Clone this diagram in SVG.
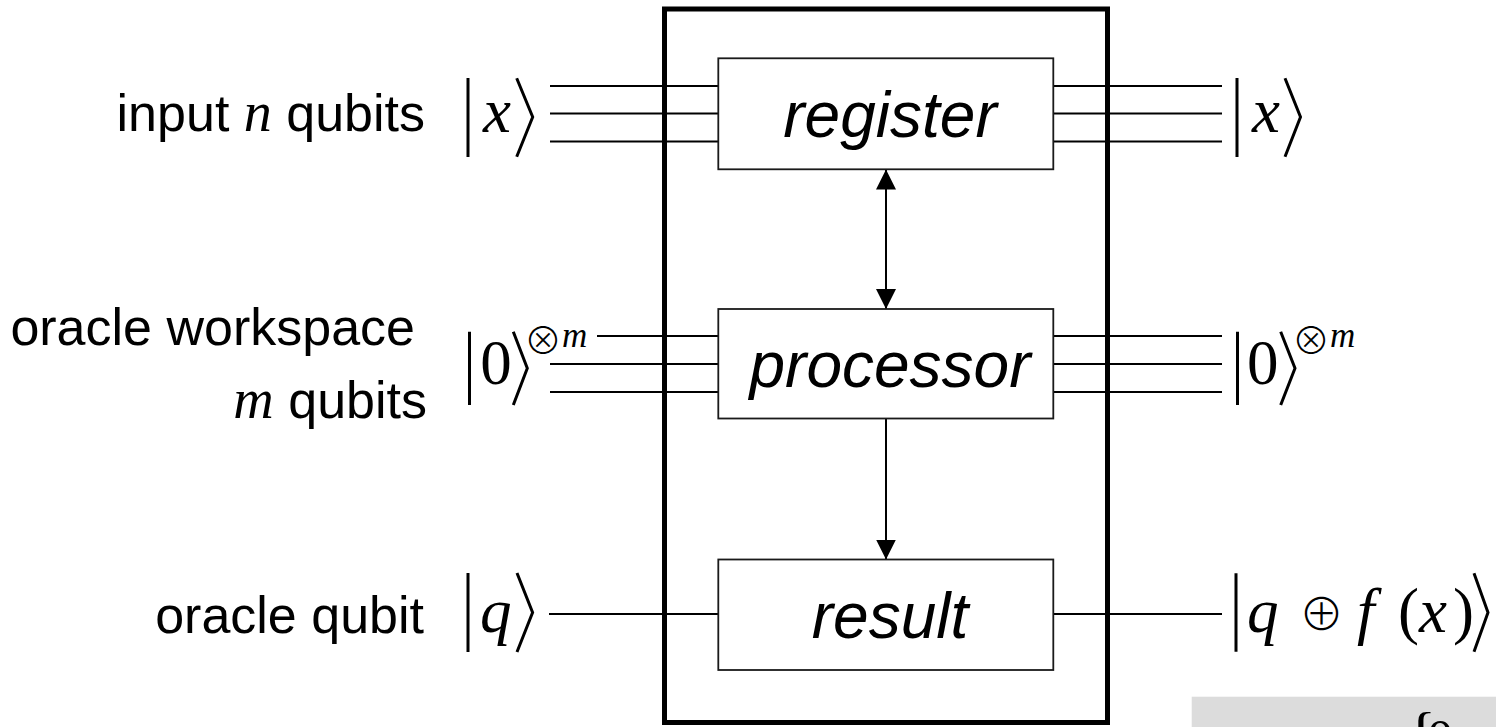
<svg xmlns="http://www.w3.org/2000/svg" width="1496" height="727" viewBox="0 0 1496 727">
  <defs>
    <style>
      .wire { stroke:#000; stroke-width:2; fill:none; }
      .arrow { stroke:#000; stroke-width:2; fill:none; }
      .frame { stroke:#000; stroke-width:5; fill:none; }
      .box { fill:#fff; stroke:#1a1a1a; stroke-width:1.8; }
      .delim { stroke:#000; stroke-width:3; fill:none; stroke-linejoin:miter; }
      .lbl { font-family:"Liberation Sans", Arial, Helvetica, sans-serif; font-size:52px; fill:#000; }
      .blk { font-family:"Liberation Sans", Arial, Helvetica, sans-serif; font-style:italic; font-size:64px; text-anchor:middle; fill:#000; }
      .math { font-family:"Liberation Serif", "Times New Roman", serif; font-size:63px; fill:#000; }
      .var { font-family:"Liberation Serif", "Times New Roman", serif; font-style:italic; }
      .sup { font-family:"Liberation Serif", "Times New Roman", serif; font-style:italic; font-size:35px; fill:#000; }
      .op { font-family:"Noto Sans CJK JP", "DejaVu Sans", sans-serif; font-weight:300; text-anchor:middle; fill:#000; }
    </style>
    <marker id="head" viewBox="0 0 20 20" refX="20" refY="10" markerWidth="20" markerHeight="20" markerUnits="userSpaceOnUse" orient="auto-start-reverse">
      <path d="M0,0 L20,10 L0,20 z" fill="#000"/>
    </marker>
  </defs>

  <rect width="1496" height="727" fill="#fff"/>

  <!-- wires and control arrows -->
  <g id="connectors">
    <!-- x register wires -->
    <path class="wire" d="M550,86 H718 M550,113.5 H718 M550,141.5 H718"/>
    <path class="wire" d="M1053,86 H1222 M1053,113.5 H1222 M1053,141.5 H1222"/>
    <!-- workspace wires -->
    <path class="wire" d="M597,336 H718 M550,364 H718 M550,392 H718"/>
    <path class="wire" d="M1053,336 H1222 M1053,364 H1222 M1053,392 H1222"/>
    <!-- oracle qubit wire -->
    <path class="wire" d="M549,614 H718 M1053,614 H1222"/>
    <!-- register <-> processor -->
    <path class="arrow" d="M886,169.5 V309" marker-start="url(#head)" marker-end="url(#head)"/>
    <!-- processor -> result -->
    <path class="arrow" d="M886,418.5 V559.5" marker-end="url(#head)"/>
  </g>

  <!-- oracle enclosure -->
  <g id="oracle">
    <rect class="frame" x="664.5" y="9" width="443" height="713.5"/>
  </g>

  <g id="register">
    <rect class="box" x="718.3" y="58.3" width="335" height="111"/>
    <text class="blk" x="890" y="137">register</text>
  </g>

  <g id="processor">
    <rect class="box" x="718.3" y="309" width="335" height="109.5"/>
    <text class="blk" x="890" y="387">processor</text>
  </g>

  <g id="result">
    <rect class="box" x="718.3" y="559.5" width="335" height="110.5"/>
    <text class="blk" x="890" y="638">result</text>
  </g>

  <!-- input labels -->
  <g id="label-input">
    <text class="lbl" x="425" y="131" text-anchor="end">input <tspan class="var" font-size="56">n</tspan> qubits</text>
  </g>
  <g id="label-workspace">
    <text class="lbl" x="415" y="345" text-anchor="end">oracle workspace</text>
    <text class="lbl" x="427" y="418" text-anchor="end"><tspan class="var" font-size="56">m</tspan> qubits</text>
  </g>
  <g id="label-qubit">
    <text class="lbl" x="424" y="633" text-anchor="end">oracle qubit</text>
  </g>

  <!-- input kets -->
  <g id="ket-x-in">
    <path class="delim" d="M468,78 V157 M516.7,78.3 L532.7,117 L516.7,156.7"/>
    <text class="math var" x="483" y="131.7">x</text>
  </g>
  <g id="ket-0-in">
    <path class="delim" d="M469.5,331.7 V405 M513.3,331.7 L527.3,368.3 L513.3,405"/>
    <text class="math" x="480.3" y="384">0</text>
    <text class="op" x="543" y="354" font-size="38">⊗</text>
    <text class="sup" x="562" y="347">m</text>
  </g>
  <g id="ket-q-in">
    <path class="delim" d="M468,573 V652 M517,573 L532.6,612.5 L517,652"/>
    <text class="math var" x="480" y="632">q</text>
  </g>

  <!-- output kets -->
  <g id="ket-x-out">
    <path class="delim" d="M1237,78 V157 M1285,78.3 L1300.5,117 L1285,156.7"/>
    <text class="math var" x="1252" y="131.7">x</text>
  </g>
  <g id="ket-0-out">
    <path class="delim" d="M1237.5,331.7 V405 M1280.7,331.7 L1295,368.3 L1280.7,405"/>
    <text class="math" x="1247" y="384">0</text>
    <text class="op" x="1311" y="354" font-size="38">⊗</text>
    <text class="sup" x="1330" y="347">m</text>
  </g>
  <g id="ket-result-out">
    <path class="delim" d="M1236,573.3 V651.7 M1474,573.3 L1488,612.5 L1474,651.7"/>
    <text class="math" y="631.7"><tspan class="var" x="1247">q</tspan><tspan class="var" x="1357">f</tspan><tspan x="1398">(</tspan><tspan class="var" x="1419">x</tspan><tspan x="1453">)</tspan></text>
    <text class="op" x="1321.5" y="631" font-size="45">⊕</text>
  </g>

  <!-- shaded note strip -->
  <g id="note">
    <rect x="1191.7" y="696.7" width="305" height="31" fill="#dcdcdc"/>
    <text class="math" x="1406" y="756" font-size="80">{<tspan x="1427" y="756" font-size="53">0</tspan></text>
  </g>
</svg>
